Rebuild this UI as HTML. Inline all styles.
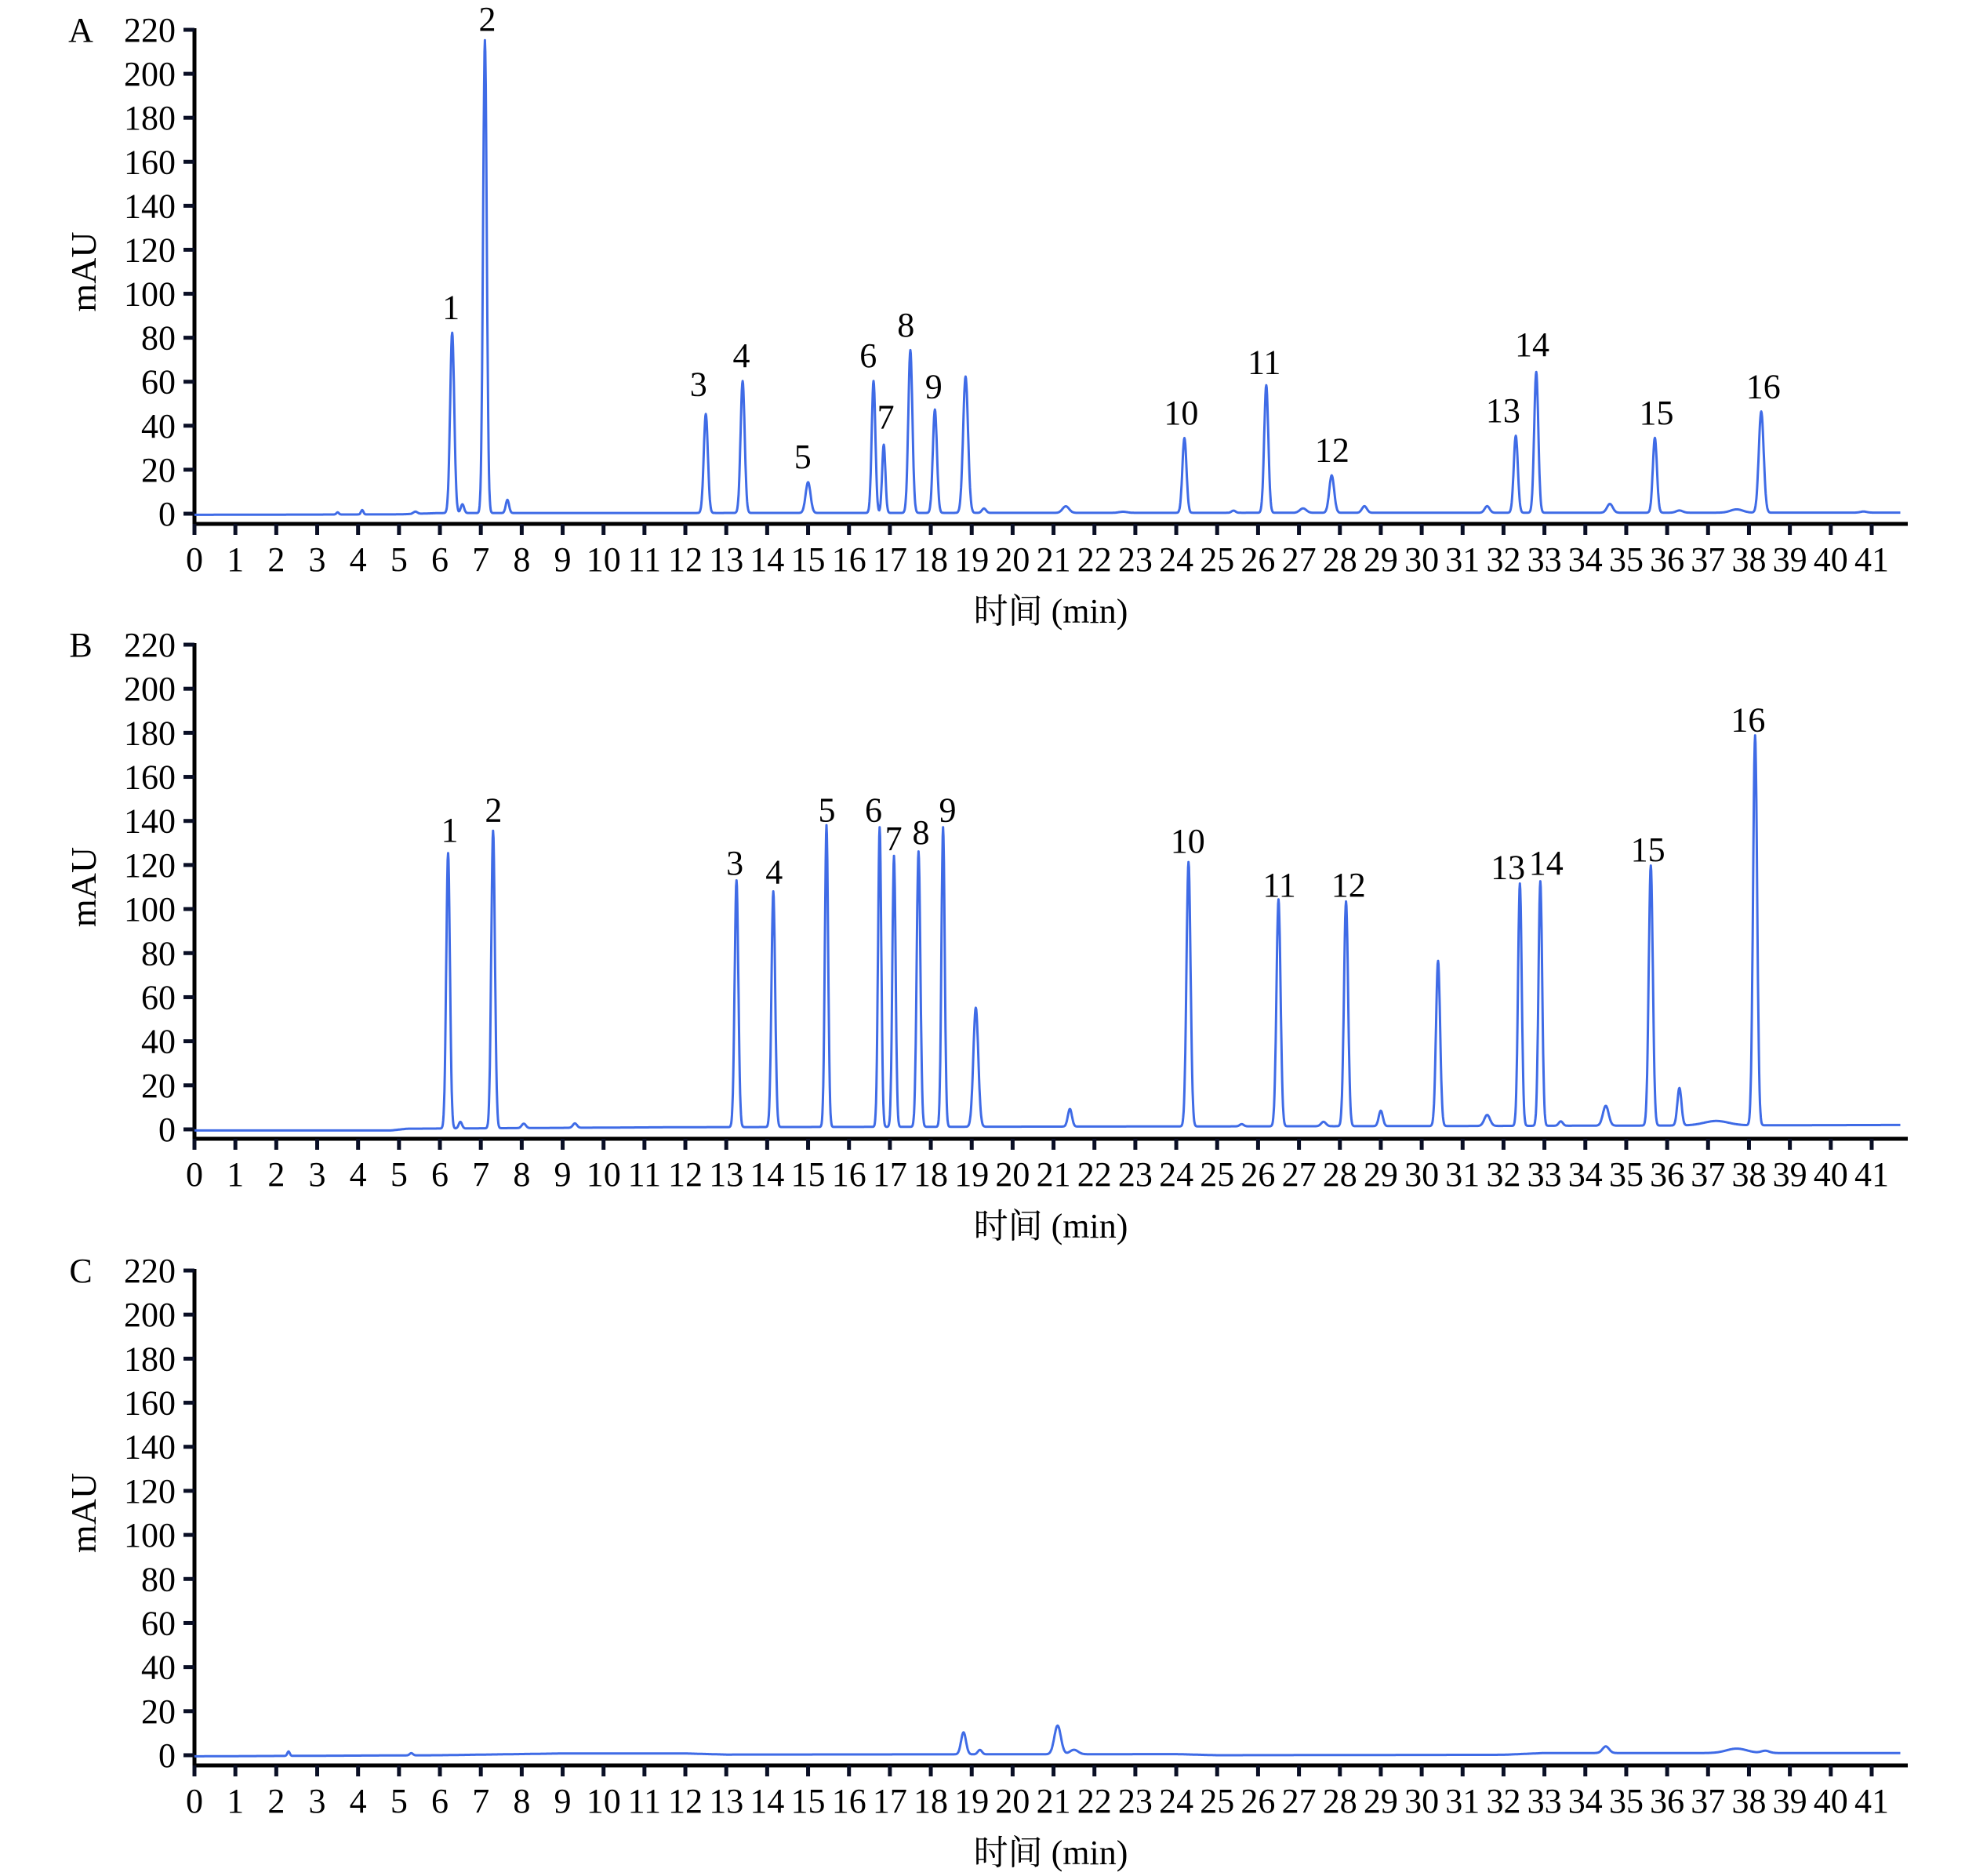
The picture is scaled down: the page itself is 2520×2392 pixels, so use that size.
<!DOCTYPE html>
<html><head><meta charset="utf-8">
<style>
body{margin:0;background:#fff;}
svg{display:block;}
text{font-family:"Liberation Serif","Noto Serif CJK SC",serif;fill:#000;}
</style></head>
<body>
<svg id="chart" width="2520" height="2392" viewBox="0 0 2520 2392" xmlns="http://www.w3.org/2000/svg"></svg>
<script>
// Shared axis data
const xTicks = [0,1,2,3,4,5,6,7,8,9,10,11,12,13,14,15,16,17,18,19,20,21,22,23,24,25,26,27,28,29,30,31,32,33,34,35,36,37,38,39,40,41];
const yTicks = [0,20,40,60,80,100,120,140,160,180,200,220];
const panelNames = ["A","B","C"];

// Panel A peaks: time (min), height (mAU), width (sigma, min)
const peakTimesA = [3.5,4.1,5.4,6.3,6.55,7.1,7.65,12.5,13.4,15.0,16.6,16.85,17.5,18.1,18.85,19.3,21.3,22.7,24.2,25.4,26.2,27.1,27.8,28.6,31.6,32.3,32.8,34.6,35.7,36.3,37.7,38.3,40.8];
const peakHeightsA = [1,2,1,82,4,215,6,45,60,14,60,31,74,47,62,2,3,0.5,34,1,58,2,17,3,3,35,64,4,34,1,1.5,46,0.5];
const peakSigmaA = [0.03,0.03,0.05,0.05,0.04,0.045,0.04,0.05,0.05,0.06,0.045,0.04,0.05,0.05,0.06,0.05,0.08,0.1,0.05,0.05,0.05,0.08,0.06,0.06,0.06,0.05,0.05,0.07,0.05,0.08,0.15,0.06,0.08];
const baseTA = [0,5,6,41.8];
const baseVA = [-0.5,-0.3,0.3,0.5];
const labelTextA = ["1","2","3","4","5","6","7","8","9","10","11","12","13","14","15","16"];
const labelTimeA = [6.27,7.16,12.32,13.37,14.87,16.47,16.9,17.39,18.07,24.12,26.15,27.81,31.99,32.7,35.74,38.35];
const labelValA = [94,225,59,72,26,72,44,86,58,46,69,29,47,77,46,58];

// Panel B peaks
const peakTimesB = [6.2,6.5,7.3,8.05,9.3,13.25,14.15,15.45,16.75,17.1,17.7,18.3,19.1,21.4,24.3,25.6,26.5,27.6,28.15,29.0,30.4,31.6,32.4,32.9,33.4,34.5,35.6,36.3,37.2,38.15];
const peakHeightsB = [125,3,135,2,2,112,107,137,136,123,125,136,54,8,120,1,103,2,102,7,75,5,110,111,2,9,118,17,2,177];
const peakSigmaB = [0.045,0.04,0.045,0.05,0.05,0.045,0.045,0.04,0.04,0.04,0.045,0.04,0.06,0.05,0.05,0.05,0.05,0.06,0.05,0.05,0.05,0.07,0.045,0.045,0.05,0.07,0.05,0.05,0.3,0.05];
const baseTB = [0,4.8,5.2,12,30,41.8];
const baseVB = [-0.5,-0.5,0.3,1,1.5,2];
const labelTextB = ["1","2","3","4","5","6","7","8","9","10","11","12","13","14","15","16"];
const labelTimeB = [6.24,7.31,13.21,14.17,15.46,16.6,17.09,17.76,18.41,24.28,26.52,28.21,32.11,33.04,35.53,37.98];
const labelValB = [136,145,121,117,145,145,132,135,145,131,111,111,119,121,127,186];

// Panel C peaks
const peakTimesC = [2.3,5.3,18.8,19.2,21.1,21.5,34.5,37.7,38.4];
const peakHeightsC = [2,1,10,2,13,2,3,2,1];
const peakSigmaC = [0.03,0.04,0.06,0.05,0.08,0.1,0.08,0.25,0.1];
const baseTC = [0,6,9,12,13,24,25,32,33,41.8];
const baseVC = [-0.5,0,0.8,0.8,0.3,0.5,0,0.2,1,1];
const labelTextC = [];
const labelTimeC = [];
const labelValC = [];

const NS = "http://www.w3.org/2000/svg";
const svg = document.getElementById("chart");
const X0 = 248, XPM = 52.17, XEND = 2433, DATA_END = 41.7;
const panels = [
  {y220:38, y0:655, axisY:668, peaksT:peakTimesA, peaksH:peakHeightsA, peaksS:peakSigmaA, bT:baseTA, bV:baseVA, lt:labelTextA, lx:labelTimeA, lv:labelValA},
  {y220:822, y0:1440, axisY:1452, peaksT:peakTimesB, peaksH:peakHeightsB, peaksS:peakSigmaB, bT:baseTB, bV:baseVB, lt:labelTextB, lx:labelTimeB, lv:labelValB},
  {y220:1620, y0:2238, axisY:2251, peaksT:peakTimesC, peaksH:peakHeightsC, peaksS:peakSigmaC, bT:baseTC, bV:baseVC, lt:labelTextC, lx:labelTimeC, lv:labelValC}
];
function xScale(t){return X0 + t*XPM;}
function mk(tag, attrs, parent){const e=document.createElementNS(NS,tag);for(const k in attrs)e.setAttribute(k,attrs[k]);parent.appendChild(e);return e;}
function baseAt(p,t){const T=p.bT,V=p.bV;for(let i=0;i<T.length-1;i++){if(t>=T[i]&&t<=T[i+1]){return V[i]+(V[i+1]-V[i])*(t-T[i])/(T[i+1]-T[i]);}}return V[V.length-1];}

panels.forEach((p,pi)=>{
  const yScale = v => p.y0 - v*(p.y0-p.y220)/220;
  const g = mk("g",{},svg);
  
  
  // panel letter
  const L = mk("text",{x:103,y:p.y220+15,"font-size":44,"text-anchor":"middle"},g);
  L.textContent = panelNames[pi];
  
  
  // y axis title
  const midY = (p.y220+p.y0)/2;
  const yt = mk("text",{x:0,y:0,"font-size":46,"text-anchor":"middle",transform:"translate(122,"+midY+") rotate(-90)"},g);
  yt.textContent="mAU";
  
  
  // axes
  const ya = mk("line",{x1:X0,y1:p.y220-2,x2:X0,y2:p.axisY+2,stroke:"#000",  "stroke-width":5},g);
  
  
  const xa = mk("line",{x1:X0-2,y1:p.axisY,x2:XEND,y2:p.axisY,stroke:"#000","stroke-width":5},g);
  
  
  yTicks.forEach(v=>{
    const y=yScale(v);
    const tk=mk("line",{x1:X0-14,y1:y,x2:X0,y2:y,stroke:"#0a0f25","stroke-width":5},g);
    
    
    const tl=mk("text",{x:X0-24,y:y+15,"font-size":44,"text-anchor":"end"},g);
    tl.textContent=v;
    
    
  });
  xTicks.forEach(t=>{
    const x=xScale(t);
    const tk=mk("line",{x1:x,y1:p.axisY,x2:x,y2:p.axisY+14,stroke:"#0a0f25","stroke-width":5},g);
    
    
    const tl=mk("text",{x:x,y:p.axisY+60,"font-size":44,"text-anchor":"middle"},g);
    tl.textContent=t;
    
    
  });
  const xt=mk("text",{x:1340,y:p.axisY+126,"font-size":44,"text-anchor":"middle"},g);
  xt.textContent="时间 (min)";
  
  
  // trace
  let d="";
  for(let i=0;i<=Math.round(DATA_END*100);i++){
    const t=i/100;
    let v=baseAt(p,t);
    for(let k=0;k<p.peaksT.length;k++){const z=(t-p.peaksT[k])/p.peaksS[k];if(Math.abs(z)<6)v+=p.peaksH[k]*Math.exp(-0.5*z*z);}
    d+=(i?"L":"M")+xScale(t).toFixed(1)+" "+yScale(v).toFixed(1);
  }
  const path=mk("path",{d:d,fill:"none",stroke:"#3f6be6","stroke-width":3,"stroke-linejoin":"round"},g);
  
  
  // peak labels
  p.lt.forEach((s,i)=>{
    const tl=mk("text",{x:xScale(p.lx[i]),y:yScale(p.lv[i])+15,"font-size":44,"text-anchor":"middle"},g);
    tl.textContent=s;
    
    
  });
});
</script>
</body></html>
